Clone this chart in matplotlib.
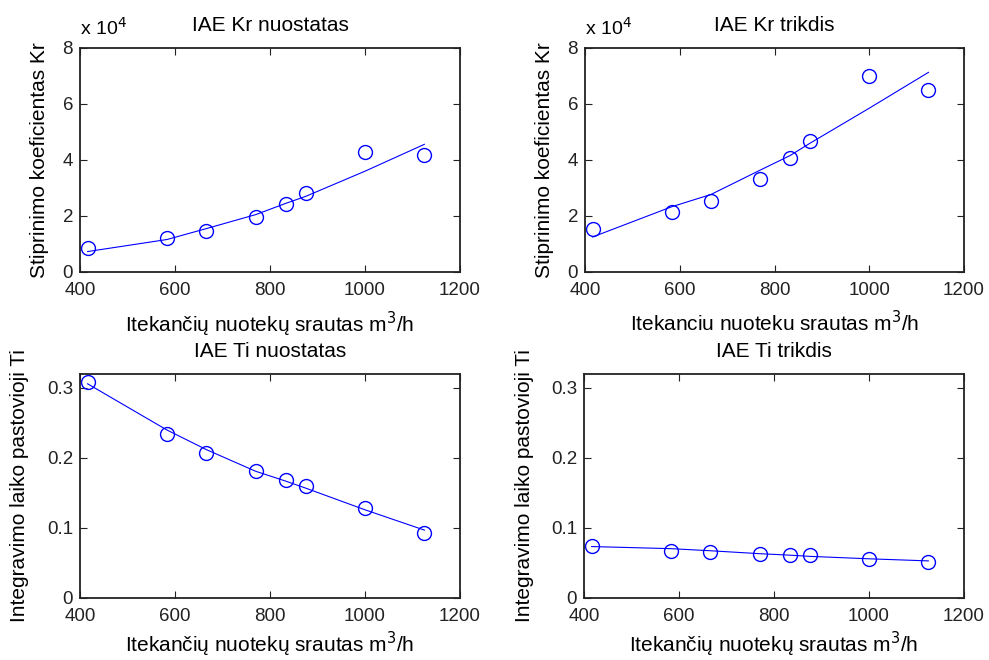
import matplotlib
matplotlib.use("Agg")
import matplotlib.pyplot as plt
from matplotlib.ticker import FuncFormatter

plt.rcParams['font.family'] = ['Liberation Sans', 'DejaVu Sans']
plt.rcParams['font.size'] = 13

# flow rate, m3/h
flow = [416, 583, 666, 770, 833, 875, 1000, 1125]

# Kr, set point / disturbance (measured and fitted)
kr_set = [8400, 12300, 14600, 19600, 24200, 28100, 42700, 41800]
kr_set_fit = [7300, 11600, 15500, 20500, 24500, 27000, 36000, 45600]
kr_dist = [15200, 21400, 25300, 33200, 40600, 46900, 70000, 65000]
kr_dist_fit = [12500, 23300, 27700, 36400, 41600, 46000, 58500, 71300]

# Ti, set point / disturbance
ti_set = [0.309, 0.234, 0.207, 0.181, 0.169, 0.160, 0.129, 0.093]
ti_set_fit = [0.306, 0.240, 0.212, 0.181, 0.167, 0.157, 0.126, 0.097]
ti_dist = [0.0743, 0.0670, 0.0657, 0.0633, 0.0610, 0.0610, 0.0560, 0.0510]
ti_dist_fit = [0.0735, 0.0705, 0.0675, 0.0633, 0.0612, 0.0595, 0.0560, 0.0530]

titles = ["IAE Kr nuostatas", "IAE Kr trikdis", "IAE Ti nuostatas", "IAE Ti trikdis"]
xlabels = ["Itekančių nuotekų srautas m$^3$/h", "Itekanciu nuoteku srautas m$^3$/h",
           "Itekančių nuotekų srautas m$^3$/h", "Itekančių nuotekų srautas m$^3$/h"]
ylabels = ["Stiprinimo koeficientas Kr", "Stiprinimo koeficientas Kr",
           "Integravimo laiko pastovioji Ti", "Integravimo laiko pastovioji Ti"]

W, H = 989, 660
fig = plt.figure(figsize=(W / 100, H / 100), dpi=100)

# axes boxes in pixels: left, top, right, bottom
boxes = [(80, 48, 460, 272), (585, 48, 964, 272),
         (80, 374, 460, 598), (584, 374, 964, 598)]
series = [(kr_set, kr_set_fit), (kr_dist, kr_dist_fit),
          (ti_set, ti_set_fit), (ti_dist, ti_dist_fit)]
ylab_x = [40, 545, 20, 524]

for i, (l, t, r, b) in enumerate(boxes):
    ax = fig.add_axes([l / W, 1 - b / H, (r - l) / W, (b - t) / H])
    pts, fit = series[i]
    ax.plot(flow, fit, color='blue', lw=0.8)
    ax.plot(flow, pts, 'o', mfc='none', mec='blue', ms=10, mew=1.0)
    ax.set_xlim(400, 1200)
    ax.set_xticks([400, 600, 800, 1000, 1200])
    if i < 2:
        ax.set_ylim(0, 80000)
        ax.set_yticks([0, 20000, 40000, 60000, 80000])
        ax.yaxis.set_major_formatter(FuncFormatter(lambda v, p: f"{v / 1e4:g}"))
        ax.text(0, 1.04, "x 10$^4$", transform=ax.transAxes, fontsize=14,
                ha='left', va='bottom')
    else:
        ax.set_ylim(0, 0.32)
        ax.set_yticks([0, 0.1, 0.2, 0.3])
        ax.yaxis.set_major_formatter(FuncFormatter(lambda v, p: f"{v:g}"))
    ax.tick_params(direction='in', length=5, width=0.8, top=True, right=True,
                   labelsize=13.5, colors='#222222')
    ax.tick_params(axis='x', pad=7)
    ax.tick_params(axis='y', pad=5)
    for s in ax.spines.values():
        s.set_linewidth(1.3)
        s.set_color('#222222')
    ax.set_title(titles[i], fontsize=15, pad=12)
    ax.set_xlabel(xlabels[i], fontsize=15, labelpad=8 if i < 2 else 4)
    fig.text(ylab_x[i] / W, 1 - (t + b) / 2 / H, ylabels[i], rotation=90,
             ha='center', va='center', fontsize=15)

fig.savefig("out.png", dpi=100)
